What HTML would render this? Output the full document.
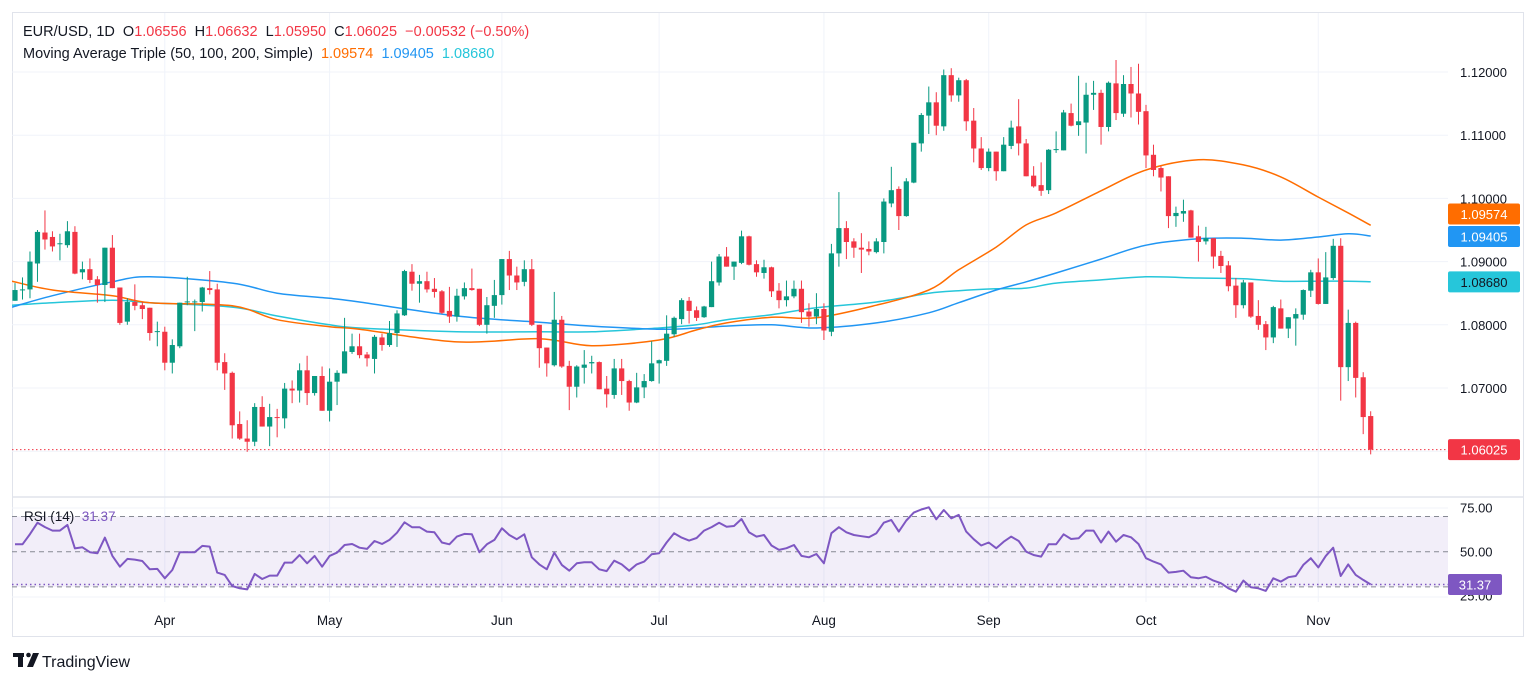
<!DOCTYPE html>
<html><head><meta charset="utf-8"><style>
html,body{margin:0;padding:0;background:#fff;width:1536px;height:682px;overflow:hidden}
svg{display:block;font-family:"Liberation Sans",Arial,sans-serif}
</style></head><body>
<svg id="chart" width="1536" height="682" viewBox="0 0 1536 682" xmlns="http://www.w3.org/2000/svg">
<defs>
<clipPath id="mainClip"><rect x="12" y="13" width="1436" height="483"/></clipPath>
<clipPath id="rsiClip"><rect x="12" y="498" width="1436" height="104"/></clipPath>
</defs>
<rect x="12.5" y="12.5" width="1511" height="624" fill="#fff" stroke="#e0e3eb"/>
<g id="grid"></g>
<g id="rsiPane" clip-path="url(#rsiClip)"></g>
<g id="mainPane" clip-path="url(#mainClip)"></g>
<line x1="12" y1="497" x2="1523" y2="497" stroke="#e0e3eb" stroke-width="1.5"/>
<g id="axes"></g>
<g font-size="14.5">
<text x="23" y="36" xml:space="preserve" fill="#131722">EUR/USD, 1D  O<tspan fill="#f23645">1.06556</tspan>  H<tspan fill="#f23645">1.06632</tspan>  L<tspan fill="#f23645">1.05950</tspan>  C<tspan fill="#f23645">1.06025  −0.00532 (−0.50%)</tspan></text>
<text x="23" y="58" xml:space="preserve" fill="#131722">Moving Average Triple (50, 100, 200, Simple)  <tspan fill="#ff6d00">1.09574</tspan>  <tspan fill="#2196f3">1.09405</tspan>  <tspan fill="#26c6da">1.08680</tspan></text>
<text x="24" y="521" font-size="13.5" xml:space="preserve" fill="#131722">RSI (14)  <tspan fill="#7e57c2">31.37</tspan></text>
</g>
<g>
<rect x="13" y="653" width="11" height="4" fill="#131722"/>
<rect x="18" y="653" width="5" height="14" fill="#131722"/>
<circle cx="28.5" cy="655" r="2.3" fill="#131722"/>
<polygon points="33,653 39,653 33,667 27,667" fill="#131722"/>
<text x="42" y="667" font-size="16" fill="#131722">TradingView</text>
</g>
</svg>
<script>
const opens=[1.0838,1.0855,1.0856,1.0897,1.0946,1.0939,1.0928,1.0926,1.0947,1.0883,
1.0888,1.0872,1.0863,1.0922,1.0859,1.0805,1.0836,1.0831,1.0827,1.0789,
1.0789,1.0740,1.0766,1.0836,1.0836,1.0836,1.0858,1.0856,1.0741,1.0724,
1.0643,1.0620,1.0615,1.0670,1.0639,1.0654,1.0652,1.0699,1.0696,1.0728,
1.0692,1.0719,1.0664,1.0710,1.0723,1.0757,1.0766,1.0753,1.0746,1.0780,
1.0768,1.0787,1.0815,1.0884,1.0865,1.0869,1.0857,1.0853,1.0822,1.0813,
1.0845,1.0858,1.0857,1.0800,1.0830,1.0847,1.0904,1.0878,1.0868,1.0888,
1.0800,1.0764,1.0736,1.0808,1.0735,1.0702,1.0732,1.0739,1.0741,1.0699,
1.0689,1.0731,1.0711,1.0677,1.0701,1.0711,1.0739,1.0743,1.0785,1.0809,
1.0838,1.0823,1.0812,1.0828,1.0867,1.0908,1.0892,1.0898,1.0940,1.0896,
1.0882,1.0891,1.0854,1.0839,1.0845,1.0857,1.0821,1.0813,1.0825,1.0789,
1.0913,1.0953,1.0932,1.0922,1.0920,1.0915,1.0931,1.0992,1.1015,1.0972,
1.1025,1.1087,1.1131,1.1152,1.1114,1.1195,1.1163,1.1187,1.1123,1.1079,
1.1048,1.1074,1.1043,1.1083,1.1114,1.1087,1.1036,1.1021,1.1013,1.1077,
1.1076,1.1135,1.1116,1.1120,1.1164,1.1167,1.1113,1.1182,1.1134,1.1181,
1.1166,1.1138,1.1069,1.1048,1.1035,1.0972,1.0976,1.0981,1.0940,1.0932,
1.0937,1.0909,1.0894,1.0862,1.0831,1.0867,1.0814,1.0801,1.0780,1.0826,
1.0794,1.0810,1.0816,1.0854,1.0883,1.0833,1.0874,1.0925,1.0733,1.0803,
1.0717,1.06556];
const highs=[1.0866,1.0875,1.0916,1.0950,1.0981,1.0948,1.0944,1.0964,1.0956,1.0900,
1.0905,1.0877,1.0922,1.0942,1.0859,1.0842,1.0864,1.0836,1.0827,1.0805,
1.0797,1.0777,1.0835,1.0876,1.0840,1.0860,1.0885,1.0865,1.0755,1.0726,
1.0663,1.0649,1.0676,1.0687,1.0675,1.0667,1.0708,1.0712,1.0739,1.0751,
1.0719,1.0734,1.0731,1.0728,1.0811,1.0786,1.0786,1.0757,1.0784,1.0786,
1.0806,1.0823,1.0887,1.0896,1.0879,1.0884,1.0874,1.0855,1.0860,1.0857,
1.0867,1.0889,1.0857,1.0844,1.0871,1.0904,1.0917,1.0892,1.0902,1.0904,
1.0800,1.0764,1.0852,1.0814,1.0743,1.0736,1.0760,1.0751,1.0742,1.0719,
1.0746,1.0746,1.0713,1.0724,1.0722,1.0774,1.0745,1.0815,1.0813,1.0842,
1.0844,1.0829,1.0830,1.0900,1.0912,1.0923,1.0900,1.0949,1.0941,1.0902,
1.0903,1.0892,1.0866,1.0870,1.0870,1.0870,1.0834,1.0850,1.0834,1.0928,
1.1010,1.0964,1.0937,1.0945,1.0932,1.0937,1.1000,1.1050,1.1019,1.1032,
1.1088,1.1135,1.1177,1.1168,1.1204,1.1206,1.1191,1.1189,1.1143,1.1097,
1.1079,1.1074,1.1097,1.1123,1.1157,1.1094,1.1051,1.1057,1.1078,1.1106,
1.1140,1.1150,1.1194,1.1183,1.1186,1.1172,1.1185,1.1219,1.1195,1.1208,
1.1213,1.1148,1.1085,1.1051,1.1035,1.0987,1.0998,1.0982,1.0957,1.0955,
1.0937,1.0917,1.0901,1.0874,1.0871,1.0867,1.0839,1.0806,1.0830,1.0840,
1.0812,1.0826,1.0856,1.0887,1.0905,1.0915,1.0936,1.0937,1.0824,1.0805,
1.0725,1.06632];
const lows=[1.0838,1.0840,1.0842,1.0868,1.0919,1.0916,1.0902,1.0922,1.0880,1.0872,
1.0866,1.0835,1.0836,1.0858,1.0800,1.0800,1.0823,1.0809,1.0775,1.0766,
1.0728,1.0723,1.0763,1.0831,1.0790,1.0821,1.0848,1.0728,1.0697,1.0620,
1.0618,1.0599,1.0608,1.0639,1.0608,1.0622,1.0636,1.0676,1.0677,1.0673,
1.0688,1.0664,1.0647,1.0673,1.0723,1.0754,1.0747,1.0734,1.0723,1.0759,
1.0765,1.0765,1.0814,1.0854,1.0835,1.0851,1.0843,1.0817,1.0803,1.0805,
1.0840,1.0854,1.0798,1.0786,1.0811,1.0832,1.0855,1.0855,1.0861,1.0798,
1.0732,1.0718,1.0734,1.0732,1.0665,1.0685,1.0707,1.0723,1.0698,1.0669,
1.0683,1.0689,1.0664,1.0676,1.0684,1.0710,1.0707,1.0735,1.0781,1.0801,
1.0802,1.0806,1.0811,1.0828,1.0862,1.0892,1.0871,1.0896,1.0894,1.0876,
1.0873,1.0844,1.0826,1.0829,1.0842,1.0803,1.0797,1.0801,1.0776,1.0782,
1.0892,1.0904,1.0906,1.0882,1.0910,1.0913,1.0913,1.0986,1.0950,1.0971,
1.1024,1.1074,1.1102,1.1100,1.1107,1.1153,1.1153,1.1107,1.1057,1.1045,
1.1043,1.1028,1.1043,1.1078,1.1068,1.1035,1.1017,1.1004,1.1007,1.1072,
1.1076,1.1114,1.1099,1.1071,1.1140,1.1085,1.1106,1.1124,1.1129,1.1128,
1.1117,1.1048,1.1035,1.1011,1.0953,1.0955,1.0963,1.0938,1.0900,1.0927,
1.0889,1.0882,1.0853,1.0811,1.0826,1.0811,1.0792,1.0760,1.0771,1.0794,
1.0779,1.0767,1.0808,1.0844,1.0832,1.0833,1.0871,1.0680,1.0711,1.0685,
1.0627,1.0595];
const closes=[1.0855,1.0856,1.0900,1.0947,1.0935,1.0924,1.0929,1.0948,1.0881,1.0888,
1.0871,1.0863,1.0922,1.0858,1.0803,1.0836,1.0830,1.0825,1.0787,1.0790,
1.0740,1.0768,1.0835,1.0837,1.0837,1.0859,1.0855,1.0740,1.0723,1.0641,
1.0620,1.0615,1.0670,1.0639,1.0654,1.0653,1.0699,1.0696,1.0728,1.0692,
1.0719,1.0664,1.0710,1.0724,1.0758,1.0766,1.0752,1.0747,1.0781,1.0768,
1.0787,1.0818,1.0885,1.0865,1.0869,1.0856,1.0852,1.0819,1.0813,1.0846,
1.0858,1.0855,1.0800,1.0831,1.0847,1.0904,1.0878,1.0867,1.0888,1.0800,
1.0763,1.0739,1.0808,1.0734,1.0702,1.0734,1.0737,1.0741,1.0698,1.0690,
1.0731,1.0711,1.0677,1.0701,1.0711,1.0739,1.0744,1.0786,1.0811,1.0839,
1.0822,1.0811,1.0829,1.0869,1.0908,1.0892,1.0900,1.0940,1.0895,1.0883,
1.0891,1.0853,1.0839,1.0845,1.0857,1.0820,1.0813,1.0825,1.0791,1.0913,
1.0953,1.0931,1.0922,1.0919,1.0916,1.0932,1.0995,1.1013,1.0972,1.1027,
1.1088,1.1132,1.1152,1.1115,1.1195,1.1163,1.1187,1.1122,1.1079,1.1048,
1.1074,1.1043,1.1085,1.1112,1.1087,1.1035,1.1019,1.1012,1.1077,1.1078,
1.1136,1.1115,1.1122,1.1164,1.1167,1.1113,1.1183,1.1135,1.1181,1.1166,
1.1137,1.1068,1.1045,1.1033,1.0972,1.0977,1.0980,1.0938,1.0931,1.0937,
1.0908,1.0893,1.0861,1.0831,1.0867,1.0813,1.0800,1.0780,1.0828,1.0794,
1.0812,1.0817,1.0855,1.0883,1.0833,1.0875,1.0925,1.0733,1.0803,1.0716,
1.0654,1.06025];
const maIdx=[-0.4,5,13,18,29,35,42,46,59,70,77,86,91,95,101,107,115,122,126,131,135,139,145,151,158,164,169,174,178,181];
const ma50=[1.0869,1.0855,1.0846,1.0835,1.0830,1.0808,1.0797,1.0793,1.0773,1.0778,1.0767,1.0776,1.0792,1.0803,1.0812,1.0811,1.0831,1.0855,1.0887,1.0923,1.0958,1.0977,1.1012,1.1045,1.1061,1.1053,1.1034,1.1002,1.0977,1.09574];
const ma100=[1.0828,1.0846,1.0868,1.0876,1.0866,1.0850,1.0842,1.0836,1.0814,1.0804,1.0798,1.0793,1.0795,1.0798,1.0800,1.0795,1.0803,1.0819,1.0835,1.0855,1.0868,1.0882,1.0904,1.0926,1.0936,1.0937,1.0934,1.0939,1.0944,1.09405];
const ma200=[1.0831,1.0835,1.0839,1.0835,1.0828,1.0814,1.0800,1.0795,1.0789,1.0789,1.0789,1.0795,1.0800,1.0808,1.0816,1.0827,1.0836,1.0850,1.0854,1.0857,1.0858,1.0866,1.0871,1.0876,1.0874,1.0873,1.0869,1.0869,1.0869,1.0868];
const rsi=[54.2,54.2,60,66.5,64,62,62,65.2,51.9,52.5,
49.7,49.1,58,47.6,41.5,45.9,45.5,44.7,40,40.2,
34.9,39.6,49.7,49.7,49.7,53.3,52.9,38.1,36.8,30.5,
29.2,28.6,37.4,34.5,36.4,36.4,43.8,43.8,48.1,43.4,
47.6,41.5,47.6,49.5,53.8,54.4,52.3,51.6,56.1,54.4,
56.7,60.8,66.7,63.9,63.9,61.4,61,55.2,54.2,58.6,
60.1,59.9,49.7,54.2,56.7,63.3,59.5,57.1,59.9,46.8,
42.8,40,49.5,42.5,39.2,43.4,44,44,40,39,
44.9,42.8,39.2,42.8,44.4,48.5,49.1,55.2,60.5,58,
56.3,57.8,62,64,66.5,64.2,64.6,68.6,61,58.6,
59.5,53.5,51,52,53.8,47.6,46.8,48.7,43.4,60.5,
63.9,61,59.5,58.8,58.2,60.5,66.5,68,61.4,67.7,
72.2,74,75.2,68.4,73.7,69,70.9,61.4,57.1,53.5,
55.2,52,55.7,58.6,56.1,50,48.1,47.2,54.2,54.2,
59.9,57.2,57.6,62,62,55.2,61.4,55.7,59.5,58.2,
54.4,46.3,44.4,42.8,38.1,38.5,39.2,35.5,34.9,35.8,
33.6,32.1,29.2,27.3,33.6,29.8,29.2,27.7,34.9,33,
35.5,36.2,42.5,46.3,41.1,47.6,52.3,36.2,42.8,36.8,
34,31.37];
const monthLabels=["Apr","May","Jun","Jul","Aug","Sep","Oct","Nov"];
const monthIdx=[20,42,65,86,108,130,151,174];
const priceTicks=[1.12,1.11,1.10,1.09,1.08,1.07,1.06];
const rsiTicks=[75,50,25];
const rsiLevels=[70,50,30];

const NS="http://www.w3.org/2000/svg";
function X(i){return 15+i*7.49;}
function Y(p){return 72+(1.12-p)/0.01*63.2;}
function RY(v){return 551.7-(v-50)*1.76;}
function mk(parent,tag,attrs){const e=document.createElementNS(NS,tag);for(const k in attrs)e.setAttribute(k,attrs[k]);parent.appendChild(e);return e;}
function smooth(pts){
  let d='M'+pts[0][0].toFixed(1)+','+pts[0][1].toFixed(1);
  for(let i=0;i<pts.length-1;i++){
    const p0=pts[Math.max(0,i-1)],p1=pts[i],p2=pts[i+1],p3=pts[Math.min(pts.length-1,i+2)];
    const c1x=p1[0]+(p2[0]-p0[0])/6,c1y=p1[1]+(p2[1]-p0[1])/6;
    const c2x=p2[0]-(p3[0]-p1[0])/6,c2y=p2[1]-(p3[1]-p1[1])/6;
    d+=' C'+c1x.toFixed(1)+','+c1y.toFixed(1)+' '+c2x.toFixed(1)+','+c2y.toFixed(1)+' '+p2[0].toFixed(1)+','+p2[1].toFixed(1);
  }
  return d;
}
const grid=document.getElementById('grid'),main=document.getElementById('mainPane'),rp=document.getElementById('rsiPane'),axes=document.getElementById('axes');

priceTicks.forEach(function(t){
  const l=mk(grid,'line',{x1:12,x2:1448,y1:Y(t),y2:Y(t),stroke:'#f0f3fa','stroke-width':1});
  
  
  if(t>1.065){
    const tx=mk(axes,'text',{x:1460,y:Y(t)+5,'font-size':13,fill:'#131722'});
    tx.textContent=t.toFixed(5);
    
    
  }
});
[508,597].forEach(function(yy){mk(grid,'line',{x1:12,x2:1448,y1:yy,y2:yy,stroke:'#f0f3fa'});});
monthIdx.forEach(function(m,k){
  const l=mk(grid,'line',{x1:X(m),x2:X(m),y1:13,y2:602,stroke:'#f0f3fa'});
  
  
  const t=mk(axes,'text',{x:X(m),y:625,'font-size':13.5,'text-anchor':'middle',fill:'#131722'});
  t.textContent=monthLabels[k];
  
  
});

const band=mk(rp,'rect',{x:12,y:RY(70),width:1436,height:RY(30)-RY(70),fill:'rgba(126,87,194,0.1)'});


rsiLevels.forEach(function(v){
  const l=mk(rp,'line',{x1:12,x2:1448,y1:RY(v),y2:RY(v),stroke:'#868993','stroke-dasharray':'5,4','stroke-width':1});
  
  
});
const lastR=rsi[rsi.length-1];
const rl=mk(rp,'line',{x1:12,x2:1448,y1:RY(lastR),y2:RY(lastR),stroke:'#7e57c2','stroke-dasharray':'1.5,3','stroke-width':1.5});


const rline=mk(rp,'polyline',{points:rsi.map(function(v,i){return X(i).toFixed(1)+','+RY(v).toFixed(1);}).join(' '),fill:'none',stroke:'#7e57c2','stroke-width':2,'stroke-linejoin':'round'});


rsiTicks.forEach(function(v){
  const t=mk(axes,'text',{x:1460,y:RY(v)+5,'font-size':13,fill:'#131722'});
  t.textContent=v.toFixed(2);
  
  
});

[[ma200,'#26c6da','ma200-line'],[ma100,'#2196f3','ma100-line'],[ma50,'#ff6d00','ma50-line']].forEach(function(s){
  const pts=s[0].map(function(v,k){return [X(maIdx[k]),Y(v)];});
  const pl=mk(main,'path',{d:smooth(pts),fill:'none',stroke:s[1],'stroke-width':1.5});
  
  
});

closes.forEach(function(c,i){
  const o=opens[i],up=c>=o,col=up?'#089981':'#f23645';
  const g=mk(main,'g',{});
  
  
  mk(g,'line',{x1:X(i),x2:X(i),y1:Y(highs[i]),y2:Y(lows[i]),stroke:col,'stroke-width':1});
  const top=Y(Math.max(o,c)),bot=Y(Math.min(o,c));
  mk(g,'rect',{x:X(i)-2.6,y:top,width:5.2,height:Math.max(1,bot-top),fill:col});
});

const lastC=closes[closes.length-1];
const pll=mk(main,'line',{x1:12,x2:1448,y1:Y(lastC),y2:Y(lastC),stroke:'#f23645','stroke-dasharray':'1.5,2.5','stroke-width':1});



function tag(cy,txt,bg,fg,name,w){
  const g=mk(axes,'g',{});
  
  
  mk(g,'rect',{x:1448,y:cy-10.5,width:w,height:21,rx:2,fill:bg});
  const t=mk(g,'text',{x:1448+w/2,y:cy+5,'font-size':13,'text-anchor':'middle',fill:fg});
  t.textContent=txt;
}
tag(214,ma50[ma50.length-1].toFixed(5),'#ff6d00','#fff','ma50-price-tag',72);
tag(236.5,ma100[ma100.length-1].toFixed(5),'#2196f3','#fff','ma100-price-tag',72);
tag(Y(ma200[ma200.length-1]),ma200[ma200.length-1].toFixed(5),'#26c6da','#131722','ma200-price-tag',72);
tag(Y(lastC),lastC.toFixed(5),'#f23645','#fff','last-price-tag',72);
tag(RY(lastR),lastR.toFixed(2),'#7e57c2','#fff','rsi-value-tag',54);
</script>
</body></html>
